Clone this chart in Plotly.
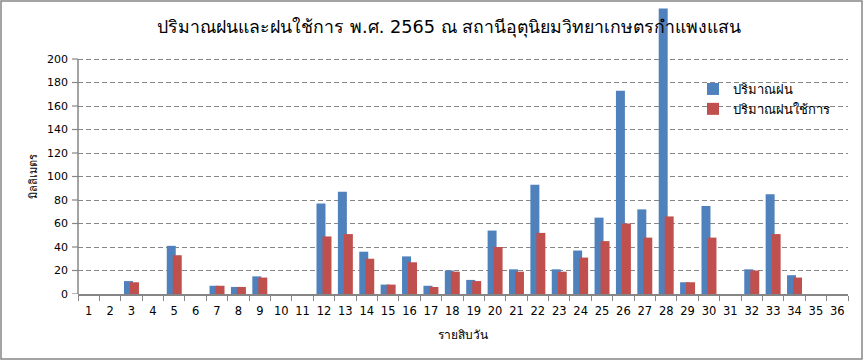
import plotly.graph_objects as go

categories = [str(i) for i in range(1, 37)]
rain = [0, 0, 11, 0, 41, 0, 7, 6, 15, 0, 0, 77, 87, 36, 8, 32, 7, 20, 12, 54,
        21, 93, 21, 37, 65, 173, 72, 243, 10, 75, 0, 21, 85, 16, 0, 0]
eff_rain = [0, 0, 10, 0, 33, 0, 7, 6, 14, 0, 0, 49, 51, 30, 8, 27, 6, 19, 11, 40,
            19, 52, 19, 31, 45, 60, 48, 66, 10, 48, 0, 20, 51, 14, 0, 0]
y_ticks = list(range(0, 201, 20))
series_names = ["ปริมาณฝน", "ปริมาณฝนใช้การ"]
title_text = "ปริมาณฝนและฝนใช้การ พ.ศ. 2565 ณ สถานีอุตุนิยมวิทยาเกษตรกำแพงแสน"
y_title = "มิลลิเมตร"
x_title = "รายสิบวัน"

BLUE = "#4F81BD"
RED = "#C0504D"
GREY = "#868686"
FONT = "DejaVu Sans"

W, H = 864, 361
L, R, T, B = 78, 16, 8, 67
pw, ph = W - L - R, H - T - B
PX_PER_UNIT = 235 / 200
y_top = ph / PX_PER_UNIT

def px_x(p):
    return (p - L) / pw

def px_y(p):
    return (H - B - p) / ph

fig = go.Figure()
fig.add_trace(go.Bar(x=categories, y=rain, name=series_names[0], marker_color=BLUE,
                     width=0.42, offset=-0.35, marker_line_width=0))
fig.add_trace(go.Bar(x=categories, y=eff_rain, name=series_names[1], marker_color=RED,
                     width=0.42, offset=-0.07, marker_line_width=0))

fig.update_layout(
    width=W, height=H,
    margin=dict(l=L, r=R, t=T, b=B, pad=0, autoexpand=False),
    paper_bgcolor="white", plot_bgcolor="white",
    barmode="overlay",
    font=dict(family=FONT, size=11, color="black"),
    title=dict(text=title_text, x=0.52, xanchor="center", y=1 - 27 / H, yanchor="middle",
               font=dict(family=FONT, size=17.7, color="black")),
    showlegend=True,
    legend=dict(x=px_x(693), y=px_y(74), xanchor="left", yanchor="top",
                font=dict(family=FONT, size=13), bgcolor="rgba(0,0,0,0)",
                tracegroupgap=5, itemwidth=30),
    xaxis=dict(type="category", range=[-0.5, 35.5], tickson="boundaries",
               ticks="outside", ticklen=5, tickcolor=GREY, showline=True,
               linecolor=GREY, linewidth=1.5, showgrid=False, tickangle=0,
               automargin=False, ticklabelstandoff=5,
               title=dict(text=x_title, standoff=14, font=dict(size=12)),
               tickfont=dict(size=11.5)),
    yaxis=dict(range=[0, y_top], tickmode="array", tickvals=y_ticks,
               ticks="", showline=False,
               showgrid=True, gridcolor=GREY, griddash="5px,3px", gridwidth=1,
               zeroline=False, ticklabelstandoff=9, automargin=False,
               tickfont=dict(size=11)),
    annotations=[dict(text=y_title, textangle=-90, xref="paper", yref="y",
                      x=px_x(33), y=100, xanchor="center", yanchor="middle",
                      showarrow=False, font=dict(family=FONT, size=11))],
    shapes=[
        dict(type="rect", xref="paper", yref="paper",
             x0=px_x(1), x1=px_x(862), y0=px_y(359), y1=px_y(1),
             line=dict(color=GREY, width=1.5), layer="below"),
        dict(type="line", xref="paper", yref="y", x0=0, x1=0, y0=0, y1=200,
             line=dict(color=GREY, width=1.5), layer="above"),
    ] + [
        dict(type="line", xref="paper", yref="y", x0=px_x(72), x1=0, y0=v, y1=v,
             line=dict(color=GREY, width=1.2), layer="above")
        for v in y_ticks
    ],
)

fig.write_html("out.html", config={"displayModeBar": False},
               post_script="document.body.style.margin='0px';document.body.style.overflow='hidden';")
